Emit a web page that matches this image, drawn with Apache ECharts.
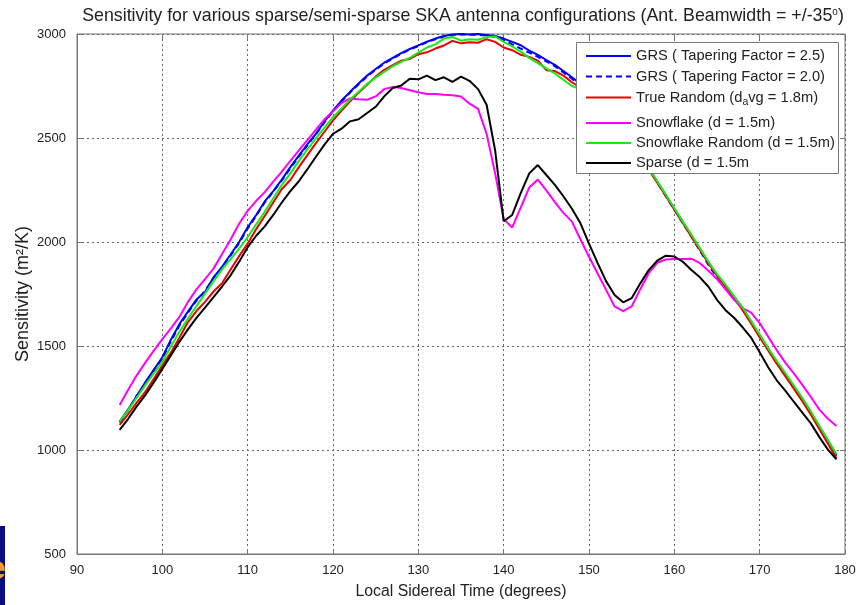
<!DOCTYPE html>
<html>
<head>
<meta charset="utf-8">
<script src="https://cdn.jsdelivr.net/npm/echarts@6/dist/echarts.min.js"></script>
<style>
  html, body { margin: 0; padding: 0; background: #ffffff; }
  #chart { width: 860px; height: 605px; }
</style>
</head>
<body>
<div id="chart"></div>
<script>
// Local sidereal time (degrees)
const lst = [95, 96, 97, 98, 99, 100, 101, 102, 103, 104, 105, 106, 107, 108, 109, 110, 111, 112, 113, 114,
  115, 116, 117, 118, 119, 120, 121, 122, 123, 124, 125, 126, 127, 128, 129, 130, 131, 132, 133, 134,
  135, 136, 137, 138, 139, 140, 141, 142, 143, 144, 145, 146, 147, 148, 149, 150, 151, 152, 153, 154,
  155, 156, 157, 158, 159, 160, 161, 162, 163, 164, 165, 166, 167, 168, 169, 170, 171, 172, 173, 174,
  175, 176, 177, 178, 179];

// Sensitivity (m^2/K) per configuration
const grs25 = [1137, 1195, 1260, 1325, 1385, 1446, 1530, 1605, 1665, 1723, 1760, 1830, 1881, 1940, 2000, 2071, 2130, 2195, 2245, 2300,
  2360, 2415, 2470, 2520, 2580, 2632, 2680, 2722, 2762, 2800, 2832, 2862, 2885, 2908, 2928, 2945, 2963, 2978, 2990, 2998,
  3000, 2998, 3000, 2995, 2990, 2978, 2962, 2946, 2920, 2900, 2875, 2852, 2822, 2792, 2760, 2712, 2668, 2622, 2572, 2520,
  2470, 2415, 2355, 2290, 2225, 2160, 2095, 2030, 1965, 1900, 1842, 1790, 1735, 1680, 1615, 1550, 1485, 1422, 1365, 1305,
  1245, 1180, 1112, 1045, 975];
const grs20 = [1132, 1192, 1262, 1320, 1384, 1440, 1522, 1598, 1660, 1718, 1765, 1826, 1878, 1935, 1995, 2065, 2126, 2190, 2242, 2296,
  2355, 2410, 2465, 2518, 2575, 2628, 2676, 2718, 2758, 2796, 2828, 2858, 2882, 2905, 2925, 2942, 2960, 2975, 2988, 2996,
  2998, 2997, 2996, 2993, 2986, 2972, 2950, 2930, 2910, 2890, 2868, 2845, 2815, 2785, 2752, 2708, 2662, 2618, 2568, 2516,
  2466, 2410, 2350, 2286, 2220, 2155, 2090, 2025, 1958, 1890, 1830, 1782, 1730, 1676, 1612, 1546, 1482, 1418, 1360, 1300,
  1240, 1176, 1108, 1042, 972];
const trueRandom = [1121, 1172, 1228, 1279, 1342, 1406, 1468, 1540, 1615, 1668, 1712, 1762, 1802, 1868, 1932, 1992, 2062, 2125, 2190, 2255,
  2298, 2360, 2418, 2475, 2530, 2585, 2632, 2676, 2718, 2756, 2795, 2828, 2850, 2872, 2880, 2903, 2912, 2930, 2945, 2967,
  2955, 2960, 2958, 2975, 2962, 2935, 2922, 2900, 2890, 2872, 2826, 2822, 2800, 2768, 2742, 2705, 2660, 2615, 2565, 2515,
  2462, 2408, 2348, 2285, 2222, 2155, 2092, 2025, 1962, 1898, 1838, 1786, 1730, 1672, 1608, 1542, 1478, 1415, 1355, 1295,
  1235, 1170, 1100, 1030, 960];
const snowflake = [1216, 1290, 1359, 1420, 1478, 1533, 1585, 1640, 1712, 1772, 1822, 1872, 1942, 2012, 2088, 2150, 2198, 2240, 2290, 2338,
  2390, 2440, 2490, 2540, 2590, 2628, 2668, 2690, 2686, 2684, 2700, 2735, 2745, 2740, 2730, 2720, 2712, 2712, 2708, 2706,
  2700, 2665, 2640, 2520, 2330, 2110, 2070, 2165, 2262, 2300, 2248, 2192, 2140, 2098, 2012, 1929, 1850, 1770, 1690, 1668,
  1690, 1772, 1850, 1900, 1916, 1918, 1918, 1920, 1898, 1862, 1822, 1772, 1722, 1682, 1660, 1610, 1545, 1480, 1420, 1368,
  1313, 1255, 1194, 1150, 1115];
const snowflakeRandom = [1137, 1192, 1252, 1312, 1368, 1422, 1498, 1568, 1632, 1692, 1752, 1812, 1868, 1918, 1968, 2023, 2085, 2145, 2210, 2275,
  2330, 2390, 2445, 2498, 2550, 2600, 2642, 2685, 2722, 2760, 2790, 2818, 2845, 2866, 2885, 2910, 2935, 2950, 2978, 2986,
  2968, 2975, 2972, 2985, 2988, 2962, 2940, 2915, 2885, 2860, 2835, 2810, 2780, 2750, 2735, 2706, 2664, 2620, 2570, 2520,
  2468, 2414, 2354, 2292, 2228, 2162, 2098, 2035, 1970, 1905, 1845, 1795, 1740, 1685, 1620, 1555, 1490, 1428, 1370, 1310,
  1250, 1185, 1115, 1048, 980];
const sparse = [1097, 1150, 1210, 1264, 1325, 1390, 1455, 1520, 1580, 1635, 1685, 1735, 1786, 1840, 1905, 1975, 2030, 2075, 2130, 2190,
  2245, 2292, 2350, 2410, 2468, 2520, 2545, 2580, 2590, 2620, 2650, 2700, 2740, 2752, 2785, 2782, 2800, 2778, 2792, 2770,
  2795, 2775, 2735, 2660, 2440, 2100, 2130, 2235, 2330, 2370, 2322, 2275, 2220, 2160, 2090, 1992, 1900, 1812, 1745, 1710,
  1730, 1800, 1865, 1910, 1934, 1930, 1905, 1865, 1830, 1785, 1722, 1672, 1636, 1590, 1540, 1470, 1398, 1335, 1285, 1232,
  1180, 1128, 1062, 1002, 955];

// Axis ticks
const xTicks = [90, 100, 110, 120, 130, 140, 150, 160, 170, 180];
const yTicks = [500, 1000, 1500, 2000, 2500, 3000];

const seriesDefs = [
  { name: 'GRS ( Tapering Factor = 2.5)', values: grs25, color: '#0000ff', type: 'solid' },
  { name: 'GRS ( Tapering Factor = 2.0)', values: grs20, color: '#0000ff', type: [6, 4] },
  { name: 'True Random (d{s|a}vg = 1.8m)', values: trueRandom, color: '#ee0000', type: 'solid' },
  { name: 'Snowflake (d = 1.5m)', values: snowflake, color: '#ff00ff', type: 'solid' },
  { name: 'Snowflake Random (d = 1.5m)', values: snowflakeRandom, color: '#11ee11', type: 'solid' },
  { name: 'Sparse (d = 1.5m', values: sparse, color: '#000000', type: 'solid' }
];

const FONT = '"Liberation Sans", Arial, sans-serif';

const legendText = {
  fontFamily: FONT, fontSize: 14.7, color: '#222', lineHeight: 20,
  rich: { s: { fontFamily: FONT, fontSize: 10.5, lineHeight: 10, padding: [10, 0, 0, 0], color: '#222' } }
};
const legendCommon = {
  orient: 'vertical', left: 585, itemWidth: 45, itemHeight: 14, itemGap: 0.5,
  textStyle: legendText, itemStyle: { opacity: 0 },
  selectedMode: false, padding: 0, z: 10
};
const tickStyle = { show: true, inside: true, length: 5, lineStyle: { color: '#777' } };
const gridLineStyle = { show: true, lineStyle: { color: '#666', type: [2, 3], width: 1 } };

const chart = echarts.init(document.getElementById('chart'), null, { renderer: 'canvas' });
chart.setOption({
  animation: false,
  backgroundColor: '#ffffff',
  title: {
    text: 'Sensitivity for various sparse/semi-sparse SKA antenna configurations (Ant. Beamwidth = +/-35{o|o})',
    left: 458, top: 2, textAlign: 'center',
    textStyle: {
      fontFamily: FONT, fontSize: 17.8, fontWeight: 'normal', color: '#222',
      rich: { o: { fontFamily: FONT, fontSize: 10, padding: [0, 0, 8, 0], color: '#222' } }
    }
  },
  legend: [
    Object.assign({}, legendCommon, { top: 46, data: seriesDefs.slice(0, 3).map(d => d.name) }),
    Object.assign({}, legendCommon, { top: 113, itemGap: 0, data: seriesDefs.slice(3).map(d => d.name) })
  ],
  grid: { show: true, borderColor: '#777', borderWidth: 1, left: 77, top: 34, width: 768, height: 527 },
  xAxis: [{
    type: 'value', min: 90, max: 180, interval: 10,
    name: 'Local Sidereal Time (degrees)', nameLocation: 'middle', nameGap: 30, nameMoveOverlap: false,
    nameTextStyle: { fontFamily: FONT, fontSize: 15.8, color: '#222' },
    axisLine: { show: true, lineStyle: { color: '#777' } },
    axisTick: tickStyle,
    axisLabel: { fontFamily: FONT, fontSize: 13, color: '#222', margin: 10,
      customValues: xTicks, formatter: v => String(v) },
    splitLine: gridLineStyle
  }, {
    type: 'value', min: 90, max: 180, interval: 10, position: 'top',
    axisLine: { show: false }, axisLabel: { show: false }, splitLine: { show: false },
    axisTick: tickStyle
  }],
  yAxis: [{
    type: 'value', min: 500, max: 3000, interval: 500,
    name: 'Sensitivity (m²/K)', nameLocation: 'middle', nameGap: 45, nameMoveOverlap: false,
    nameTextStyle: { fontFamily: FONT, fontSize: 18, color: '#222' },
    axisLine: { show: true, lineStyle: { color: '#777' } },
    axisTick: tickStyle,
    axisLabel: { fontFamily: FONT, fontSize: 13, color: '#222', margin: 11,
      customValues: yTicks, formatter: v => String(v) },
    splitLine: gridLineStyle
  }, {
    type: 'value', min: 500, max: 3000, interval: 500, position: 'right',
    axisLine: { show: false }, axisLabel: { show: false }, splitLine: { show: false },
    axisTick: tickStyle
  }],
  graphic: [
    // legend frame (covers the curves underneath)
    { type: 'rect', z: 5, shape: { x: 576.5, y: 42.5, width: 262, height: 131 },
      style: { fill: '#ffffff', stroke: '#777', lineWidth: 1 } },
    // slide background fragment in the lower-left corner
    { type: 'rect', z: 5, shape: { x: 0, y: 526, width: 5, height: 79 }, style: { fill: '#0b0b85' } },
    { type: 'text', z: 6, x: 6, y: 570, style: { text: 'e', fill: '#f59a2a', font: 'bold 34px "Liberation Sans"', textAlign: 'right', textVerticalAlign: 'middle' } }
  ],
  series: seriesDefs.map((d, i) => ({
    name: d.name,
    type: 'line',
    xAxisIndex: 0, yAxisIndex: 0,
    data: lst.map((x, k) => [x, d.values[k]]),
    symbol: 'none',
    z: 2 + i * 0.01,
    lineStyle: { color: d.color, width: 2, type: d.type },
    itemStyle: { color: d.color }
  }))
});
</script>
</body>
</html>
